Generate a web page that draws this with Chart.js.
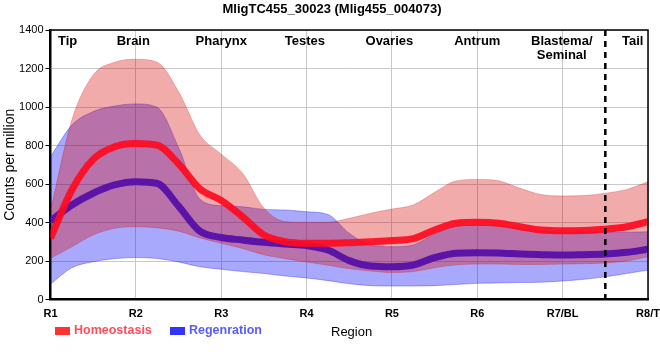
<!DOCTYPE html>
<html>
<head>
<meta charset="utf-8">
<script src="https://cdn.jsdelivr.net/npm/chart.js@4.4.1/dist/chart.umd.min.js"></script>
<style>
  body { margin: 0; background: #fff; }
  #wrap { width: 660px; height: 360px; }
</style>
</head>
<body>
<div id="wrap"><canvas id="myChart" width="660" height="360"></canvas></div>
<script>
// x positions along the body (1 = R1 ... 8 = R8/T)
const positions = [1, 1.25, 1.5, 1.75, 2, 2.25, 2.5, 2.75, 3, 3.25, 3.5, 3.75, 4, 4.25, 4.5,
  4.75, 5, 5.25, 5.5, 5.75, 6, 6.25, 6.5, 6.75, 7, 7.25, 7.5, 7.75, 8];

const tickLabels = ['R1', 'R2', 'R3', 'R4', 'R5', 'R6', 'R7/BL', 'R8/T'];

// homeostasis
const homeoMean = [318, 569, 728, 794, 811, 802, 705, 575, 515, 430, 335, 300, 292, 292, 295,
  300, 306, 316, 361, 396, 401, 396, 378, 361, 357, 359, 365, 378, 404];
const homeoUpper = [460, 932, 1166, 1232, 1248, 1232, 1080, 855, 755, 656, 475, 405, 401, 401, 422,
  448, 470, 491, 557, 616, 624, 617, 578, 545, 538, 540, 552, 572, 612];
const homeoLower = [214, 274, 335, 370, 378, 372, 355, 320, 292, 265, 232, 212, 195, 178, 160,
  148, 140, 145, 165, 180, 184, 184, 182, 182, 184, 186, 190, 200, 222];

// regeneration
const regenMean = [408, 491, 552, 595, 612, 603, 485, 355, 322, 309, 297, 288, 280, 257, 202,
  174, 170, 179, 217, 240, 243, 242, 236, 233, 231, 233, 236, 245, 261];
const regenUpper = [742, 906, 976, 1005, 1016, 998, 790, 522, 487, 482, 468, 465, 456, 442, 344,
  283, 274, 283, 340, 380, 387, 385, 368, 355, 350, 350, 350, 350, 352];
const regenLower = [80, 165, 196, 212, 218, 213, 195, 170, 157, 145, 135, 122, 112, 98, 82,
  72, 70, 70, 72, 78, 84, 86, 88, 90, 96, 105, 118, 135, 153];

// region names across the top
const regionNames = ['Tip', 'Brain', 'Pharynx', 'Testes', 'Ovaries', 'Antrum', ['Blastema/', 'Seminal'], 'Tail'];
const regionPos = [1.2, 1.97, 3.0, 3.98, 4.97, 6.0, 6.99, 7.82];

const blastemaTailSplit = 7.5;

const SANS = "'Liberation Sans', Arial, sans-serif";

function pts(ys) {
  return positions.map((x, i) => ({ x: x, y: ys[i] }));
}

const decor = {
  id: 'decor',
  afterDatasetsDraw(chart) {
    const { ctx, chartArea: a, scales } = chart;
    const xs = scales.x;
    ctx.save();
    // dashed divider
    const dx = xs.getPixelForValue(blastemaTailSplit);
    ctx.strokeStyle = '#000';
    ctx.lineWidth = 2.5;
    ctx.setLineDash([6, 5]);
    ctx.beginPath();
    ctx.moveTo(dx, a.top);
    ctx.lineTo(dx, a.bottom + 4);
    ctx.stroke();
    ctx.setLineDash([]);
    // frame top / right
    ctx.lineWidth = 1.5;
    ctx.beginPath();
    ctx.moveTo(a.left, a.top);
    ctx.lineTo(a.right, a.top);
    ctx.lineTo(a.right, a.bottom);
    ctx.stroke();
    // region labels
    ctx.fillStyle = '#000';
    ctx.font = 'bold 13px ' + SANS;
    ctx.textAlign = 'center';
    ctx.textBaseline = 'middle';
    regionNames.forEach((n, i) => {
      const px = xs.getPixelForValue(regionPos[i]);
      const lines = Array.isArray(n) ? n : [n];
      lines.forEach((t, j) => ctx.fillText(t, px, a.top + 11 + j * 14));
    });
    ctx.restore();
  },
  afterDraw(chart) {
    const { ctx } = chart;
    ctx.save();
    ctx.textBaseline = 'middle';
    ctx.textAlign = 'center';
    ctx.fillStyle = '#000';
    ctx.font = 'bold 13px ' + SANS;
    ctx.fillText('MligTC455_30023 (Mlig455_004073)', 332, 9);
    // legend
    ctx.textAlign = 'left';
    ctx.fillStyle = '#ff3333';
    ctx.fillRect(55, 327, 15, 8);
    ctx.fillStyle = '#3333ff';
    ctx.fillRect(170, 327, 15, 8);
    ctx.font = 'bold 12.5px ' + SANS;
    ctx.fillStyle = '#ff4d5a';
    ctx.fillText('Homeostasis', 74, 331);
    ctx.fillStyle = '#5a5aff';
    ctx.fillText('Regenration', 189, 331);
    ctx.fillStyle = '#000';
    ctx.font = '13px ' + SANS;
    ctx.fillText('Region', 331, 332);
    ctx.restore();
  }
};

const ctx = document.getElementById('myChart').getContext('2d');

const myChart = new Chart(ctx, {
  type: 'line',
  data: {
    datasets: [
      {
        label: 'regenLower',
        data: pts(regenLower),
        borderColor: 'rgba(0, 0, 240, 0.3)',
        borderWidth: 1,
        fill: false,
        order: 6
      },
      {
        label: 'regenUpper',
        data: pts(regenUpper),
        borderColor: 'rgba(0, 0, 240, 0.3)',
        borderWidth: 1,
        backgroundColor: 'rgba(0, 0, 245, 0.34)',
        fill: '-1',
        order: 5
      },
      {
        label: 'Regenration',
        data: pts(regenMean),
        borderColor: 'rgb(30, 30, 250)',
        borderWidth: 7,
        fill: false,
        order: 4
      },
      {
        label: 'homeoLower',
        data: pts(homeoLower),
        borderColor: 'rgba(216, 0, 0, 0.25)',
        borderWidth: 1,
        fill: false,
        order: 3
      },
      {
        label: 'homeoUpper',
        data: pts(homeoUpper),
        borderColor: 'rgba(216, 0, 0, 0.25)',
        borderWidth: 1,
        backgroundColor: 'rgba(216, 0, 0, 0.33)',
        fill: '-1',
        order: 2
      },
      {
        label: 'Homeostasis',
        data: pts(homeoMean),
        borderColor: 'rgba(255, 10, 30, 0.92)',
        borderWidth: 7,
        fill: false,
        order: 1
      }
    ]
  },
  options: {
    responsive: false,
    animation: false,
    devicePixelRatio: 1,
    layout: { padding: { top: 30, right: 12, bottom: 0, left: 0 } },
    elements: {
      point: { radius: 0, hoverRadius: 0 },
      line: { cubicInterpolationMode: 'monotone' }
    },
    scales: {
      x: {
        type: 'linear',
        min: 1,
        max: 8,
        grid: { color: '#c8c8c8', drawTicks: false },
        border: { color: '#000', width: 2.5 },
        ticks: {
          stepSize: 1,
          padding: 8,
          color: '#000',
          font: { family: SANS, size: 11, weight: 'bold' },
          callback: v => tickLabels[v - 1]
        },
        afterFit: s => { s.height = 60.5; s.paddingLeft = 0; s.paddingRight = 0; }
      },
      y: {
        min: 0,
        max: 1400,
        grid: { color: '#c8c8c8', tickColor: '#000', tickLength: 5 },
        border: { color: '#000', width: 2.5 },
        ticks: {
          stepSize: 200,
          padding: 2,
          color: '#000',
          font: { family: SANS, size: 11 },
          callback: v => String(v)
        },
        title: {
          display: true,
          text: 'Counts per million',
          color: '#000',
          font: { family: SANS, size: 14 },
          padding: { top: 2, bottom: 0 }
        },
        afterFit: s => { s.width = 50.5; }
      }
    },
    plugins: {
      legend: { display: false },
      title: { display: false },
      tooltip: { enabled: false }
    }
  },
  plugins: [decor]
});
</script>
</body>
</html>
